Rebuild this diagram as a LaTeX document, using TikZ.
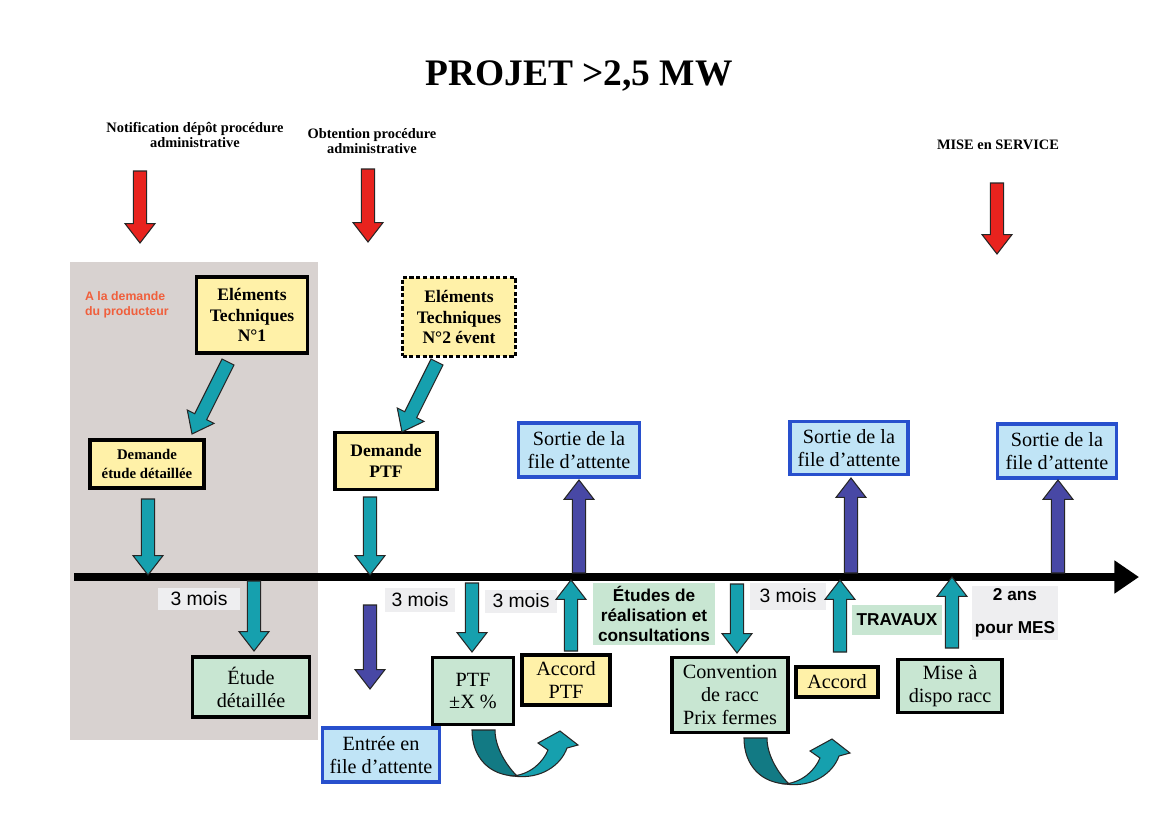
\documentclass[tikz,border=0pt]{standalone}
\usepackage{fontspec}
\setmainfont{Liberation Serif}
\setsansfont{Liberation Sans}
\usetikzlibrary{calc,arrows.meta}

\definecolor{redarr}{RGB}{232,35,30}
\definecolor{tealarr}{RGB}{22,160,174}
\definecolor{tealdark}{RGB}{18,122,132}
\definecolor{bluearr}{RGB}{72,72,165}
\definecolor{boxyellow}{RGB}{255,241,168}
\definecolor{boxgreen}{RGB}{200,230,210}
\definecolor{boxblue}{RGB}{192,228,246}
\definecolor{edgeblue}{RGB}{40,80,205}
\definecolor{zonegray}{RGB}{216,210,208}
\definecolor{labelgray}{RGB}{238,238,240}
\definecolor{notered}{RGB}{240,95,60}

\tikzset{
	box/.style={draw=black, line width=2.2pt, align=center, inner sep=1pt, font=\fontsize{11.5}{13}\selectfont},
	techbox/.style={box, fill=boxyellow, font=\bfseries\fontsize{10}{11.5}\selectfont},
	queuebox/.style={box, draw=edgeblue, fill=boxblue},
	delay/.style={fill=labelgray, align=center, inner sep=1pt, font=\sffamily\fontsize{11}{13}\selectfont},
	phase/.style={fill=boxgreen, align=center, inner sep=1pt, font=\sffamily\bfseries\fontsize{9.8}{11.3}\selectfont},
	milestone/.style={align=center, font=\bfseries\fontsize{8.2}{9}\selectfont},
	arrowline/.style={draw=black!85, line width=0.6pt, line join=miter},
	uturn/.pic={
		\draw[arrowline, fill=tealdark] (-1,0) .. controls (-1,27) and (16,46) .. (44,46) .. controls (34,36) and (22,18) .. (22,0) -- cycle;
		\draw[arrowline, fill=tealarr] (40,46) .. controls (58,44) and (70,32) .. (75,20) -- (65,13) -- (87,1) -- (105,15) -- (94,18) .. controls (88,35) and (68,50) .. (40,46) -- cycle;
	}
}

\newcommand{\blockarrow}[3]{%
	\path ($(#3)!11pt!(#2)$) coordinate (hb);
	\draw[arrowline, fill=#1] ($(#2)!3.8pt!90:(#3)$) -- ($(hb)!3.8pt!90:(#3)$) -- ($(hb)!8.5pt!90:(#3)$) -- (#3) -- ($(hb)!8.5pt!-90:(#3)$) -- ($(hb)!3.8pt!-90:(#3)$) -- ($(#2)!3.8pt!-90:(#3)$) -- cycle;}

\begin{document}
\begin{tikzpicture}[x=0.02cm, y=-0.02cm]
	\useasboundingbox (0,0) rectangle (1157,839);
	\fill[white] (0,0) rectangle (1157,839);
	\fill[zonegray] (70,262) rectangle (318,740);
	
	\node[font=\bfseries\fontsize{21.3}{25}\selectfont] (title) at (579,76) {PROJET >2,5 MW};
	\node[milestone] (notif) at (195,135) {Notification dépôt procédure\\administrative};
	\node[milestone] (obtent) at (372,141) {Obtention procédure\\administrative};
	\node[milestone] (mes) at (998,145) {MISE en SERVICE};
	\node[anchor=west, align=left, text=notered, font=\sffamily\bfseries\fontsize{7}{8.5}\selectfont] (prod) at (79,305) {A la demande\\du producteur};
	
	\node[techbox, minimum width=2.22cm, minimum height=1.52cm] (et1) at (252,315) {Eléments\\Techniques\\N°1};
	\node[techbox, dash pattern=on 2.4pt off 1.4pt, minimum width=2.26cm, minimum height=1.58cm] (et2) at (459,317) {Eléments\\Techniques\\N°2 évent};
	\node[techbox, font=\bfseries\fontsize{8.4}{11}\selectfont, minimum width=2.28cm, minimum height=0.96cm] (dem1) at (147,464) {Demande\\étude détaillée};
	\node[techbox, minimum width=2.04cm, minimum height=1.14cm] (dem2) at (386,461) {Demande\\PTF};
	
	\node[queuebox, minimum width=2.42cm, minimum height=1.08cm] (sortie1) at (579,450) {Sortie de la\\file d’attente};
	\node[queuebox, minimum width=2.36cm, minimum height=1.06cm] (sortie2) at (849,448) {Sortie de la\\file d’attente};
	\node[queuebox, minimum width=2.38cm, minimum height=1.08cm] (sortie3) at (1057,451) {Sortie de la\\file d’attente};
	
	\coordinate (ax0) at (74,577);
	\coordinate (ax1) at (1139,577);
	\draw[line width=5pt, -{Triangle[width=18pt, length=14pt]}] (ax0) -- (ax1);
	
	\node[delay, minimum width=1.64cm, minimum height=0.44cm] (mois1) at (199,599) {3 mois};
	\node[delay, minimum width=1.4cm, minimum height=0.48cm] (mois2) at (420,600) {3 mois};
	\node[delay, minimum width=1.44cm, minimum height=0.46cm] (mois3) at (521,601) {3 mois};
	\node[delay, minimum width=1.54cm, minimum height=0.54cm] (mois4) at (788,596) {3 mois};
	\node[phase, minimum width=2.44cm, minimum height=1.24cm] (etudes) at (654,614) {Études de\\réalisation et\\consultations};
	\node[phase, minimum width=1.8cm, minimum height=0.6cm] (travaux) at (897,620) {TRAVAUX};
	\node[phase, fill=labelgray, font=\sffamily\bfseries\fontsize{9.8}{19}\selectfont, minimum width=1.72cm, minimum height=1.08cm] (deuxans) at (1015,613) {2 ans\\pour MES};
	
	\node[box, fill=boxgreen, minimum width=2.34cm, minimum height=1.2cm] (etude) at (251,687) {Étude\\détaillée};
	\node[queuebox, minimum width=2.34cm, minimum height=1.08cm] (entree) at (381,755) {Entrée en\\file d’attente};
	\node[box, fill=boxgreen, minimum width=1.62cm, minimum height=1.34cm] (ptf) at (473,691) {PTF\\±X \%};
	\node[box, fill=boxyellow, minimum width=1.76cm, minimum height=1.0cm] (accptf) at (566,680) {Accord\\PTF};
	\node[box, fill=boxgreen, minimum width=2.32cm, minimum height=1.5cm] (conv) at (730,695) {Convention\\de racc\\Prix fermes};
	\node[box, fill=boxyellow, minimum width=1.64cm, minimum height=0.6cm] (acc) at (837,682) {Accord};
	\node[box, fill=boxgreen, minimum width=2.08cm, minimum height=1.06cm] (mise) at (950,686) {Mise à\\dispo racc};
	
	\coordinate (r1a) at (140,171);
	\coordinate (r1b) at (140,243);
	\coordinate (r2a) at (368,169);
	\coordinate (r2b) at (368,242);
	\coordinate (r3a) at (997,183);
	\coordinate (r3b) at (997,254);
	\blockarrow{redarr}{r1a}{r1b}
	\blockarrow{redarr}{r2a}{r2b}
	\blockarrow{redarr}{r3a}{r3b}
	
	\coordinate (d1a) at (228,362);
	\coordinate (d1b) at (192,434);
	\coordinate (d2a) at (437,362);
	\coordinate (d2b) at (402,432);
	\blockarrow{tealarr}{d1a}{d1b}
	\blockarrow{tealarr}{d2a}{d2b}
	
	\coordinate (t1a) at (148,499);
	\coordinate (t1b) at (148,575);
	\coordinate (t2a) at (370,497);
	\coordinate (t2b) at (370,575);
	\coordinate (t3a) at (254,581);
	\coordinate (t3b) at (254,651);
	\coordinate (t4a) at (472,583);
	\coordinate (t4b) at (472,652);
	\coordinate (t5a) at (571,651);
	\coordinate (t5b) at (571,580);
	\coordinate (t6a) at (737,584);
	\coordinate (t6b) at (737,653);
	\coordinate (t7a) at (840,652);
	\coordinate (t7b) at (840,580);
	\coordinate (t8a) at (952,648);
	\coordinate (t8b) at (952,577);
	\blockarrow{tealarr}{t1a}{t1b}
	\blockarrow{tealarr}{t2a}{t2b}
	\blockarrow{tealarr}{t3a}{t3b}
	\blockarrow{tealarr}{t4a}{t4b}
	\blockarrow{tealarr}{t5a}{t5b}
	\blockarrow{tealarr}{t6a}{t6b}
	\blockarrow{tealarr}{t7a}{t7b}
	\blockarrow{tealarr}{t8a}{t8b}
	
	\coordinate (b1a) at (579,573);
	\coordinate (b1b) at (579,480);
	\coordinate (b2a) at (851,573);
	\coordinate (b2b) at (851,478);
	\coordinate (b3a) at (1058,573);
	\coordinate (b3b) at (1058,480);
	\coordinate (b4a) at (370,605);
	\coordinate (b4b) at (370,689);
	\blockarrow{bluearr}{b1a}{b1b}
	\blockarrow{bluearr}{b2a}{b2b}
	\blockarrow{bluearr}{b3a}{b3b}
	\blockarrow{bluearr}{b4a}{b4b}
	
	\pic at (473,730) {uturn};
	\pic at (745,738) {uturn};
\end{tikzpicture}
\end{document}
